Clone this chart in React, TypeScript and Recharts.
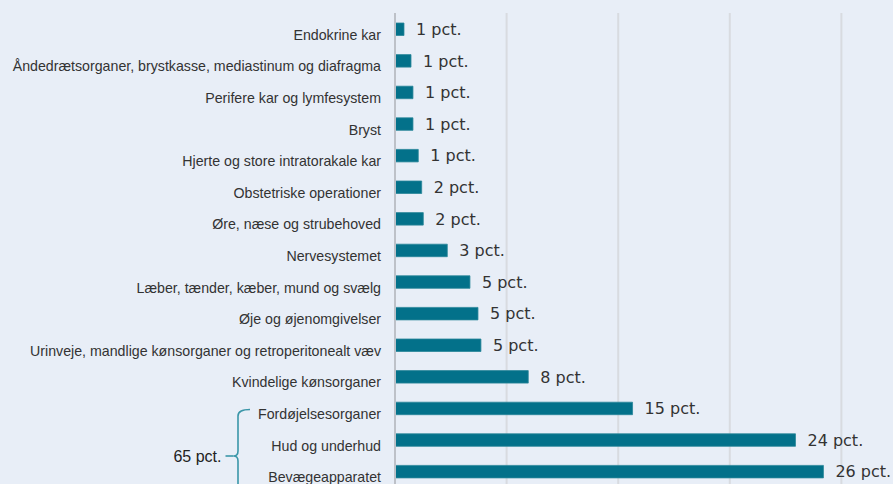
import React from 'react';
import { BarChart, Bar, XAxis, YAxis, CartesianGrid, LabelList } from 'recharts';

const categories = [
  'Endokrine kar',
  'Åndedrætsorganer, brystkasse, mediastinum og diafragma',
  'Perifere kar og lymfesystem',
  'Bryst',
  'Hjerte og store intratorakale kar',
  'Obstetriske operationer',
  'Øre, næse og strubehoved',
  'Nervesystemet',
  'Læber, tænder, kæber, mund og svælg',
  'Øje og øjenomgivelser',
  'Urinveje, mandlige kønsorganer og retroperitonealt væv',
  'Kvindelige kønsorganer',
  'Fordøjelsesorganer',
  'Hud og underhud',
  'Bevægeapparatet',
];

// Estimated underlying counts (gridlines every 2000)
const counts = [161, 287, 322, 322, 417, 478, 507, 937, 1343, 1487, 1540, 2388, 4257, 7177, 7678];

const pctLabels = [
  '1 pct.', '1 pct.', '1 pct.', '1 pct.', '1 pct.', '2 pct.', '2 pct.', '3 pct.',
  '5 pct.', '5 pct.', '5 pct.', '8 pct.', '15 pct.', '24 pct.', '26 pct.',
];

const xTicks = [0, 2000, 4000, 6000, 8000, 10000];
const bracketLabel = '65 pct.';

const data = categories.map((name, i) => ({ name, value: counts[i], label: pctLabels[i] }));

const BG = '#E8EEF7';
const BAR = '#03718A';
const TEXT = '#333333';

const CategoryTick = (props: any) => {
  const { x, y, payload } = props;
  return (
    <text
      x={x}
      y={y + 6}
      dy="0.355em"
      textAnchor="end"
      fill={TEXT}
      fontSize={14.2}
      fontFamily="'Liberation Sans', Arial, sans-serif"
    >
      {payload.value}
    </text>
  );
};

export default function App() {
  return (
    <div
      style={{
        position: 'absolute',
        left: 0,
        top: 0,
        width: 893,
        height: 484,
        overflow: 'hidden',
        background: BG,
      }}
    >
      <BarChart
        width={953}
        height={487}
        data={data}
        layout="vertical"
        margin={{ top: 13, right: 0, left: 0, bottom: 0 }}
        barSize={12.5}
      >
        <CartesianGrid horizontal={false} vertical={true} stroke="#D8DBE0" strokeWidth={2} />
        <XAxis type="number" domain={[0, 10000]} ticks={xTicks} hide />
        <YAxis
          type="category"
          dataKey="name"
          width={395}
          interval={0}
          tickLine={false}
          tickMargin={8}
          axisLine={{ stroke: '#BDC1C8', strokeWidth: 2 }}
          tick={<CategoryTick />}
        />
        <Bar dataKey="value" fill={BAR} stroke="#2A8799" strokeWidth={0.8} isAnimationActive={false}>
          <LabelList
            dataKey="label"
            position="right"
            offset={12}
            fill={TEXT}
            fontSize={16}
            fontFamily="'DejaVu Sans', sans-serif"
          />
        </Bar>
      </BarChart>
      <svg
        width={893}
        height={484}
        style={{ position: 'absolute', left: 0, top: 0, pointerEvents: 'none' }}
      >
        <path
          d="M250,409.5 Q238,409.5 238,416 L238,451 Q238,456 233.5,456 Q238,456 238,461 L238,500"
          fill="none"
          stroke="#3A96A8"
          strokeWidth={1.6}
        />
        <line x1={225.5} y1={456} x2={233.5} y2={456} stroke="#3A96A8" strokeWidth={1.6} />
        <text
          x={221.5}
          y={462}
          textAnchor="end"
          fill="#222222"
          fontSize={16}
          fontFamily="'Liberation Sans', Arial, sans-serif"
        >
          {bracketLabel}
        </text>
      </svg>
    </div>
  );
}
